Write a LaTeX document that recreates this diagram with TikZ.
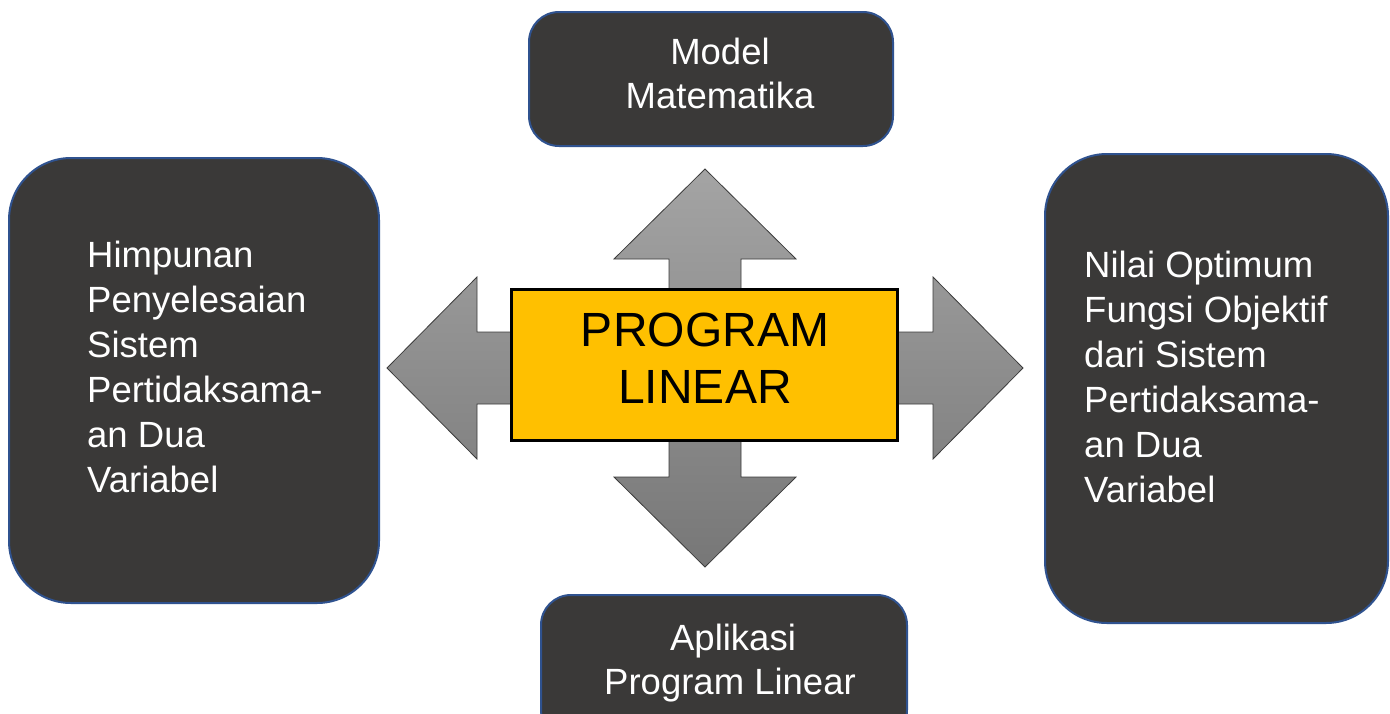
\documentclass[tikz,border=0pt]{standalone}
\usepackage{fontspec}
\setmainfont{Liberation Sans}
\definecolor{boxfill}{HTML}{3A3938}
\definecolor{boxline}{HTML}{2F528F}
\definecolor{centerfill}{HTML}{FFC000}
\definecolor{arrowtop}{HTML}{A4A4A4}
\definecolor{arrowbot}{HTML}{777777}
\definecolor{arrowline}{HTML}{3C3C3C}
\tikzset{
  darkbox/.style={draw=boxline, line width=2pt, fill=boxfill},
  boxtext/.style={text=white, font=\fontsize{36.5}{45}\selectfont, inner sep=0pt},
  centertext/.style={text=black, font=\fontsize{48}{57}\selectfont, inner sep=0pt},
}
\begin{document}
\begin{tikzpicture}[x=1pt, y=-1pt]
\useasboundingbox (0,0) rectangle (1390,713);
\fill[white] (0,0) rectangle (1390,713);

% outer boxes
\draw[darkbox, rounded corners=30pt] (529,12) rectangle (893,146);
\draw[darkbox, rounded corners=62pt] (9,158) rectangle (379,603);
\draw[darkbox, rounded corners=62pt] (1045,154) rectangle (1388,623);
\draw[darkbox, rounded corners=30pt] (541,595) rectangle (907,740);

% four-way arrow
\shade[top color=arrowtop, bottom color=arrowbot, draw=arrowline, line width=0.8pt]
  (705,169) -- (796,259) -- (741,259) -- (741,332) -- (933,332) -- (933,277)
  -- (1023,368) -- (933,459) -- (933,404) -- (741,404) -- (741,477) -- (796,477)
  -- (705,567) -- (614,477) -- (669,477) -- (669,404) -- (477,404) -- (477,459)
  -- (387,368) -- (477,277) -- (477,332) -- (669,332) -- (669,259) -- (614,259)
  -- cycle;

% centre box
\node[draw=black, line width=3pt, fill=centerfill, minimum width=386pt,
      minimum height=151pt, inner sep=0pt] (center) at (704,364.5) {};
\node[centertext, anchor=base] (c1) at (705,346) {PROGRAM};
\node[centertext, anchor=base] (c2) at (705,403) {LINEAR};

% top box text
\node[boxtext, anchor=base] (t1) at (720,64) {Model};
\node[boxtext, anchor=base] (t2) at (720,108) {Matematika};

% bottom box text
\node[boxtext, anchor=base] (b1) at (733,650) {Aplikasi};
\node[boxtext, anchor=base] (b2) at (730,694) {Program Linear};

% left box text
\node[boxtext, anchor=base west] (l1) at (87,267) {Himpunan};
\node[boxtext, anchor=base west] (l2) at (87,312) {Penyelesaian};
\node[boxtext, anchor=base west] (l3) at (87,357) {Sistem};
\node[boxtext, anchor=base west] (l4) at (87,402) {Pertidaksama-};
\node[boxtext, anchor=base west] (l5) at (87,447) {an Dua};
\node[boxtext, anchor=base west] (l6) at (87,492) {Variabel};

% right box text
\node[boxtext, anchor=base west] (r1) at (1084,277) {Nilai Optimum};
\node[boxtext, anchor=base west] (r2) at (1084,322) {Fungsi Objektif};
\node[boxtext, anchor=base west] (r3) at (1084,367) {dari Sistem};
\node[boxtext, anchor=base west] (r4) at (1084,412) {Pertidaksama-};
\node[boxtext, anchor=base west] (r5) at (1084,457) {an Dua};
\node[boxtext, anchor=base west] (r6) at (1084,502) {Variabel};
\end{tikzpicture}
\end{document}
